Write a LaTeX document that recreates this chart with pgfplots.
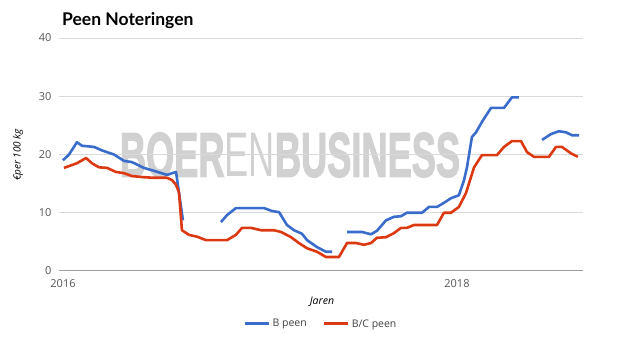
\documentclass[border=0pt]{standalone}
\usepackage{pgfplots}
\pgfplotsset{compat=1.18}
\usepackage{pgfplotstable}
\usepackage{fontspec}
\setmainfont{Open Sans}
\newfontfamily\titlefont{Lato}
\newfontfamily\wmfont{Liberation Sans}
\newfontfamily\wmbold[FakeBold=2.5]{Liberation Sans Bold}
\definecolor{bblue}{HTML}{3A6CCB}
\definecolor{bred}{HTML}{DC3912}
\definecolor{ticktext}{HTML}{555555}

\pgfplotstableread{
x y
0.015 19.0
0.046 20.0
0.086 22.1
0.112 21.5
0.173 21.3
0.213 20.7
0.274 20.0
0.325 18.9
0.365 18.7
0.426 17.7
0.477 17.2
0.543 16.5
0.589 17.0
0.624 8.7
0.700 nan
0.817 8.4
0.848 9.6
0.893 10.8
1.036 10.8
1.076 10.3
1.112 10.1
1.152 7.9
1.188 7.0
1.228 6.4
1.254 5.3
1.305 4.1
1.350 3.3
1.381 3.3
1.420 nan
1.457 6.7
1.533 6.7
1.579 6.3
1.609 6.9
1.655 8.7
1.695 9.3
1.731 9.4
1.761 10.0
1.838 10.0
1.873 11.0
1.914 11.0
1.949 11.7
1.985 12.5
2.025 13.0
2.051 15.6
2.066 17.8
2.091 23.0
2.112 23.8
2.142 25.6
2.188 28.0
2.254 28.0
2.294 29.8
2.330 29.8
2.400 nan
2.447 22.5
2.492 23.5
2.533 24.0
2.569 23.8
2.599 23.3
2.635 23.3
}\bpeen

\pgfplotstableread{
x y
0.020 17.7
0.086 18.5
0.132 19.4
0.162 18.5
0.198 17.8
0.239 17.7
0.284 17.0
0.325 16.8
0.365 16.3
0.426 16.1
0.477 16.0
0.543 16.0
0.569 15.6
0.589 14.8
0.604 13.5
0.619 7.0
0.655 6.2
0.695 5.9
0.741 5.3
0.848 5.3
0.893 6.2
0.924 7.4
0.970 7.4
1.020 7.0
1.086 7.0
1.122 6.7
1.173 5.8
1.213 4.8
1.254 3.9
1.305 3.3
1.350 2.4
1.416 2.4
1.457 4.8
1.503 4.8
1.543 4.5
1.579 4.8
1.609 5.7
1.655 5.8
1.695 6.5
1.731 7.4
1.761 7.4
1.797 7.9
1.914 7.9
1.949 10.0
1.985 10.0
2.025 11.0
2.061 13.4
2.102 17.8
2.142 19.9
2.218 19.9
2.254 21.3
2.294 22.3
2.340 22.3
2.371 20.4
2.406 19.6
2.482 19.6
2.518 21.3
2.548 21.3
2.594 20.2
2.629 19.6
}\bcpeen

\begin{document}
\begin{tikzpicture}
\useasboundingbox (-60pt,-81pt) rectangle (565pt,271pt);
% watermark
\node[xscale=0.575, text=gray!36, inner sep=0pt] at (230pt,116pt)
  {\fontsize{63}{63}\selectfont{\wmbold BOER}{\wmfont EN}{\wmbold BUSINESS}};
\begin{axis}[
  scale only axis,
  width=524pt, height=233pt,
  at={(0pt,0pt)}, anchor=origin,
  xmin=-0.005, xmax=2.655,
  ymin=0, ymax=40,
  ytick={10,20,30,40},
  extra y ticks={0},
  extra y tick style={grid style={draw=gray!75, line width=1pt}},
  xtick={0,2},
  xticklabels={2016,2018},
  axis line style={draw=none},
  major tick length=0pt,
  ymajorgrids,
  grid style={draw=gray!30, line width=0.9pt},
  tick label style={font=\fontsize{11}{13}\selectfont, text=ticktext},
  /pgf/number format/assume math mode=true,
  yticklabel style={xshift=-4pt},
  xticklabel style={yshift=-5pt, xshift=3pt},
  unbounded coords=jump,
  legend style={at={(rel axis cs:0.5,0)}, yshift=-53pt, anchor=center,
    draw=none, fill=none, font=\fontsize{10.5}{12}\selectfont,
    text=black!75,
    legend columns=2, /tikz/every even column/.append style={column sep=14pt}},
  legend image code/.code={\draw[#1, line width=3pt] (0pt,0pt) -- (24pt,0pt);},
]
\addplot[bblue, line width=2.6pt, line join=round] table[x=x,y=y] {\bpeen};
\addlegendentry{B peen}
\addplot[bred, line width=2.6pt, line join=round] table[x=x,y=y] {\bcpeen};
\addlegendentry{B/C peen}
\end{axis}
\node[anchor=base west, inner sep=0pt] at (2pt,245pt)
  {\titlefont\bfseries\fontsize{17.5}{20}\selectfont Peen Noteringen};
\node[rotate=90, inner sep=0pt] at (-42pt,116pt)
  {\itshape\fontsize{10}{12}\selectfont €per 100 kg};
\node[inner sep=0pt] at (262pt,-31pt)
  {\itshape\fontsize{10.5}{12}\selectfont Jaren};
\end{tikzpicture}
\end{document}
